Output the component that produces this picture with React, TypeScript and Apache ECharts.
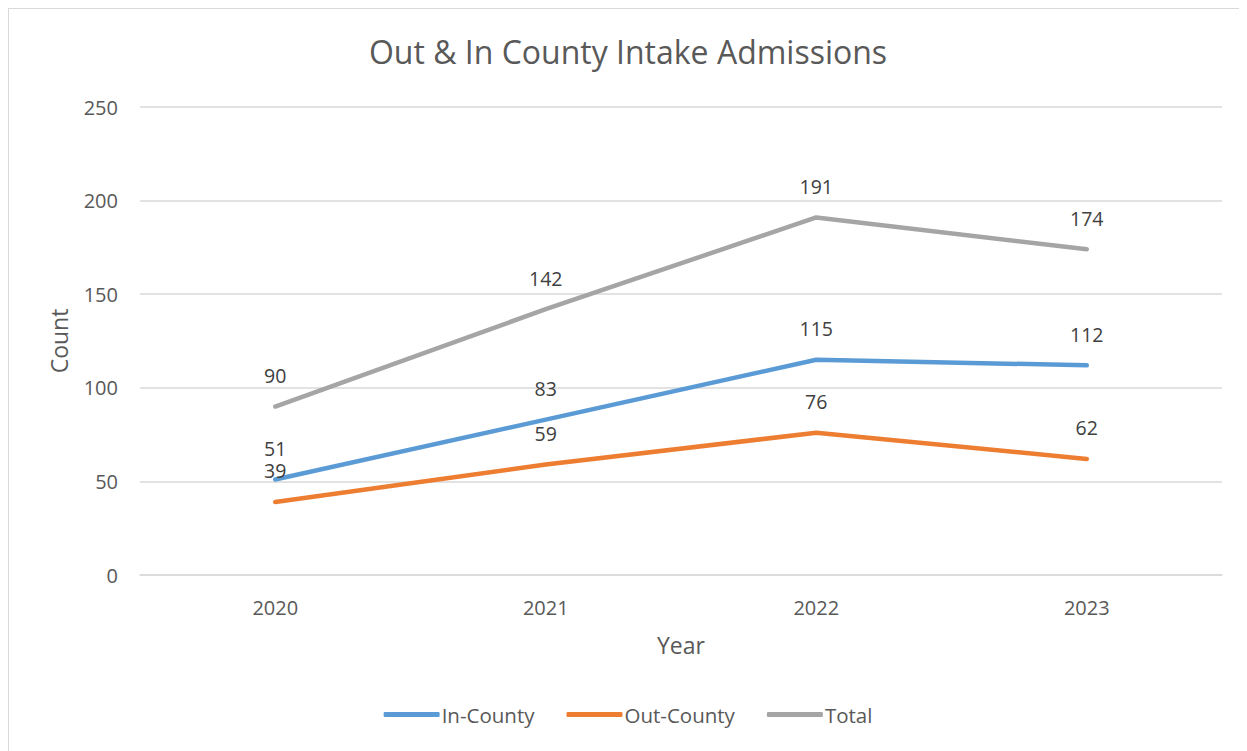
import React, { useEffect, useRef } from "react";
import * as echarts from "echarts";

const years = ["2020", "2021", "2022", "2023"];
const inCounty = [51, 83, 115, 112];
const outCounty = [39, 59, 76, 62];
const total = [90, 142, 191, 174];

const FONT = "'Open Sans', 'Noto Sans', sans-serif";

export default function App() {
  const ref = useRef<HTMLDivElement>(null);
  useEffect(() => {
    if (!ref.current) return;
    const chart = echarts.init(ref.current, null, { renderer: "svg" });
    const mkSeries = (name: string, data: number[], color: string) => ({
      name,
      type: "line",
      data,
      showSymbol: true,
      symbol: "circle",
      symbolSize: 0,
      lineStyle: { width: 4.5, color, cap: "round", join: "round" },
      itemStyle: { color },
      label: {
        show: true,
        position: "top",
        distance: 22,
        color: "#404040",
        fontSize: 19.5,
        lineHeight: 18,
        fontFamily: FONT,
      },
    });
    chart.setOption({
      animation: false,
      textStyle: { fontFamily: FONT },
      title: {
        text: "Out & In County Intake Admissions",
        left: "center",
        top: 21,
        textStyle: { fontSize: 32, fontWeight: "normal", color: "#595959", fontFamily: FONT },
      },
      grid: { left: 131, right: 25, top: 98, bottom: 176, containLabel: false },
      xAxis: {
        type: "category",
        data: years,
        boundaryGap: true,
        name: "Year",
        nameLocation: "middle",
        nameGap: 58,
        nameTextStyle: { fontSize: 23, color: "#595959", fontFamily: FONT },
        axisLine: { show: true, lineStyle: { color: "#d9d9d9", width: 1.5 } },
        axisTick: { show: false },
        axisLabel: { margin: 22, fontSize: 20, color: "#595959", fontFamily: FONT },
      },
      yAxis: {
        type: "value",
        min: 0,
        max: 250,
        interval: 50,
        name: "Count",
        nameLocation: "middle",
        nameGap: 70,
        nameRotate: 90,
        nameTextStyle: { fontSize: 23, color: "#595959", fontFamily: FONT },
        axisLine: { show: false },
        axisTick: { show: false },
        axisLabel: { margin: 22, fontSize: 20, color: "#595959", fontFamily: FONT },
        splitLine: { lineStyle: { color: "#d9d9d9", width: 1.5 } },
      },
      legend: {
        bottom: 21,
        left: "center",
        itemWidth: 56,
        itemHeight: 5,
        itemGap: 32,
        icon: "roundRect",
        textStyle: { fontSize: 20.5, color: "#595959", fontFamily: FONT, padding: [0, 0, 0, -3] },
        data: ["In-County", "Out-County", "Total"],
      },
      series: [
        mkSeries("In-County", inCounty, "#5B9BD5"),
        mkSeries("Out-County", outCounty, "#ED7D31"),
        mkSeries("Total", total, "#A5A5A5"),
      ],
    });
    return () => chart.dispose();
  }, []);
  return (
    <div style={{ width: 1239, height: 743, borderTop: "1px solid #d9d9d9", borderLeft: "1px solid #d9d9d9", boxSizing: "border-box", background: "#fff" }}>
      <div ref={ref} style={{ width: 1238, height: 742 }} />
    </div>
  );
}
